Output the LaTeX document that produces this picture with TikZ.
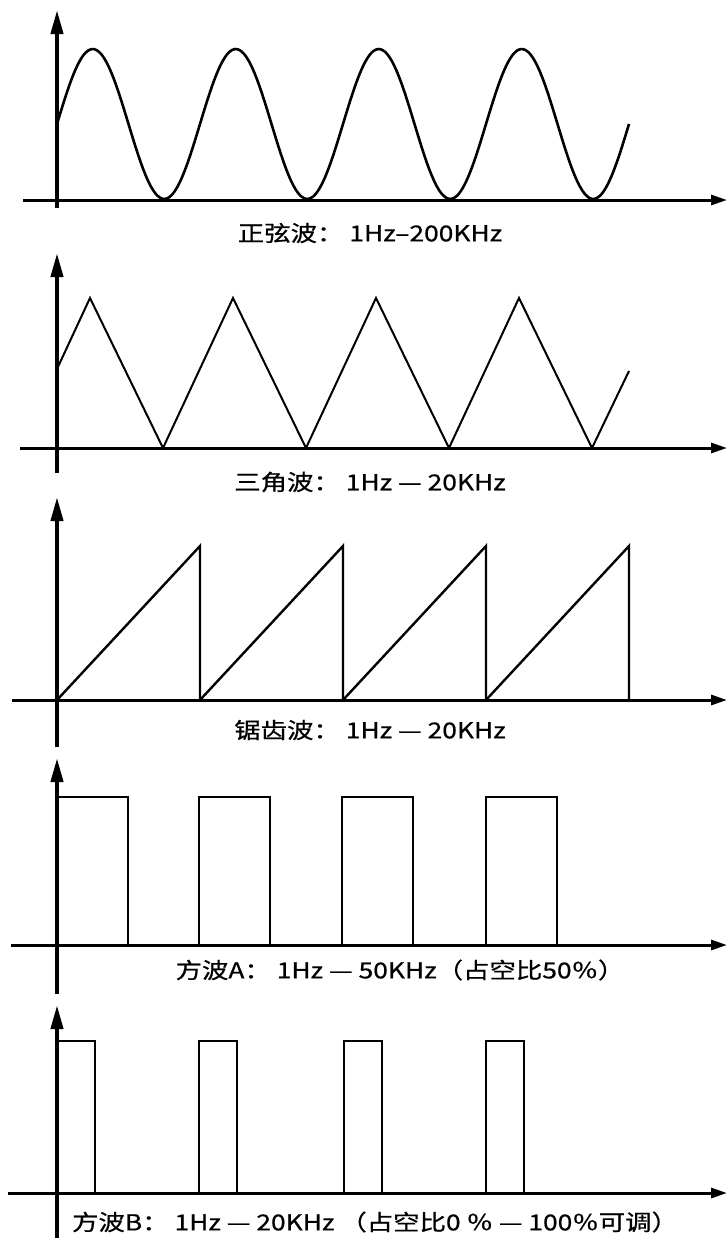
\documentclass[tikz,border=0pt]{standalone}
\usepackage{fontspec}
\setmainfont{Noto Sans CJK SC}
\newfontfamily\capfont{Noto Sans CJK SC}[FakeBold=0.6]
\usepackage{tikz}
\usetikzlibrary{arrows.meta}

\tikzset{
  yaxis/.style={line width=2pt, -{Triangle[length=12pt,width=6pt]}},
  xaxis/.style={line width=1.5pt, -{Triangle[length=8pt,width=5pt]}},
  wave/.style={line width=1pt},
  caption/.style={font=\capfont\fontsize{11}{13}\selectfont, inner sep=0pt},
}

\begin{document}
\begin{tikzpicture}[x=0.5pt,y=-0.5pt]
  \useasboundingbox (0,0) rectangle (728,1238);

  % sine
  \draw[xaxis] (23,200) -- (727,200);
  \draw[yaxis] (57,208) -- (57,10);
  \draw[wave, line width=1.3pt] plot[domain=57:629, samples=200, smooth]
    (\x, {124-75*sin((\x-57)/143*360)});
  \node[caption] (sinelabel) at (370,233) {\scalebox{1.2}[1]{正弦波： 1Hz–200KHz}};

  % triangle
  \draw[xaxis] (20,448) -- (727,448);
  \draw[yaxis] (57,473) -- (57,253);
  \draw[wave] (57,369) foreach \k in {0,...,3} {
    -- ({90+143*\k},298) -- ({163+143*\k},448) } -- (629,371);
  \node[caption] (trilabel) at (370,482) {\scalebox{1.2}[1]{三角波： 1Hz — 20KHz}};

  % sawtooth
  \draw[xaxis] (12,700) -- (727,700);
  \draw[yaxis] (57,747) -- (57,497);
  \foreach \s in {57,200,343,486}
    \draw[wave, line width=1.2pt] (\s,700) -- ({\s+143},546) -- ({\s+143},700);
  \node[caption] (sawlabel) at (370,730) {\scalebox{1.2}[1]{锯齿波： 1Hz — 20KHz}};

  % square A
  \draw[xaxis] (11,945) -- (727,945);
  \draw[yaxis] (57,994) -- (57,758);
  \foreach \s in {57,199,342,486}
    \draw[wave] (\s,945) -- (\s,797) -- ({\s+71},797) -- ({\s+71},945);
  \node[caption] (sqalabel) at (400,970) {\scalebox{1.2}[1]{方波A： 1Hz — 50KHz（占空比50％）}};

  % square B
  \draw[xaxis] (8,1193) -- (727,1193);
  \draw[yaxis] (57,1238) -- (57,1005);
  \foreach \s in {57,199,344,486}
    \draw[wave] (\s,1193) -- (\s,1041) -- ({\s+38},1041) -- ({\s+38},1193);
  \node[caption] (sqblabel) at (375,1222) {\scalebox{1.2}[1]{方波B： 1Hz — 20KHz （占空比0 ％ — 100％可调）}};
\end{tikzpicture}
\end{document}
